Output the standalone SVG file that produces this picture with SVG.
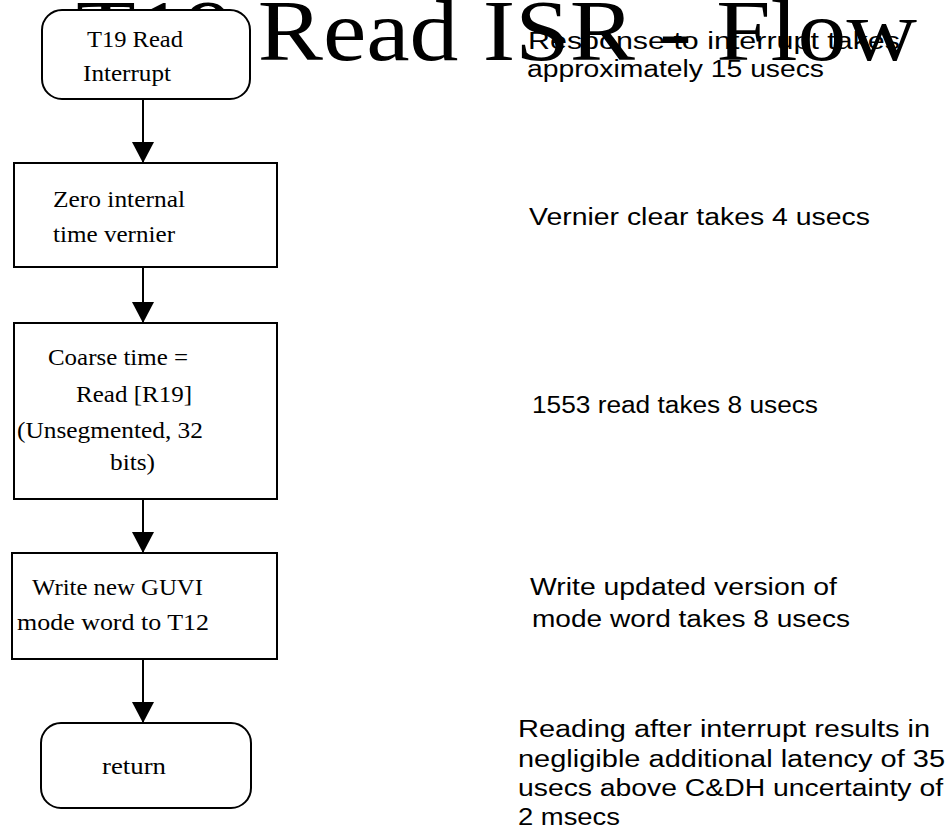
<svg xmlns="http://www.w3.org/2000/svg" width="949" height="827" viewBox="0 0 949 827">
<style>
.box{fill:#fff;stroke:#000;stroke-width:2}
.lbl{font-family:"Liberation Serif","Times New Roman",serif;font-size:24px;fill:#000}
.note{font-family:"Liberation Sans",Arial,sans-serif;font-size:23px;fill:#000}
.title{font-family:"Liberation Serif","Times New Roman",serif;font-size:86px;fill:#000}
.conn{stroke:#000;stroke-width:2;fill:none}
</style>
<defs>
<marker id="ah" markerUnits="userSpaceOnUse" markerWidth="24" markerHeight="24" refX="21" refY="11" orient="auto" viewBox="0 0 24 24">
<path d="M0,0 L21,11 L0,22 z" fill="#000"/>
</marker>
</defs>
<rect width="949" height="827" fill="#fff"/>
<text id="title" class="title" x="76" y="60" textLength="841" lengthAdjust="spacingAndGlyphs">T19 Read ISR - Flow</text>
<g id="connectors">
<line class="conn" x1="143" y1="99" x2="143" y2="163" marker-end="url(#ah)"/>
<line class="conn" x1="143" y1="267" x2="143" y2="323" marker-end="url(#ah)"/>
<line class="conn" x1="143" y1="499" x2="143" y2="553" marker-end="url(#ah)"/>
<line class="conn" x1="143" y1="659" x2="143" y2="723" marker-end="url(#ah)"/>
</g>
<g id="n1">
<rect class="box" x="42" y="10" width="208" height="89" rx="20" ry="20"/>
<text class="lbl" x="87" y="47" textLength="96" lengthAdjust="spacingAndGlyphs">T19 Read</text>
<text class="lbl" x="83" y="81" textLength="88" lengthAdjust="spacingAndGlyphs">Interrupt</text>
</g>
<g id="n2">
<rect class="box" x="14" y="163" width="263" height="104"/>
<text class="lbl" x="53" y="207" textLength="132" lengthAdjust="spacingAndGlyphs">Zero internal</text>
<text class="lbl" x="53" y="242" textLength="122" lengthAdjust="spacingAndGlyphs">time vernier</text>
</g>
<g id="n3">
<rect class="box" x="14" y="323" width="263" height="176"/>
<text class="lbl" x="48" y="365" textLength="140" lengthAdjust="spacingAndGlyphs">Coarse time =</text>
<text class="lbl" x="76" y="402" textLength="116" lengthAdjust="spacingAndGlyphs">Read [R19]</text>
<text class="lbl" x="17" y="438" textLength="186" lengthAdjust="spacingAndGlyphs">(Unsegmented, 32</text>
<text class="lbl" x="110" y="470" textLength="45" lengthAdjust="spacingAndGlyphs">bits)</text>
</g>
<g id="n4">
<rect class="box" x="12" y="553" width="265" height="106"/>
<text class="lbl" x="32" y="595" textLength="171" lengthAdjust="spacingAndGlyphs">Write new GUVI</text>
<text class="lbl" x="17" y="630" textLength="192" lengthAdjust="spacingAndGlyphs">mode word to T12</text>
</g>
<g id="n5">
<rect class="box" x="41" y="723" width="210" height="85" rx="20" ry="20"/>
<text class="lbl" x="102" y="774" textLength="64" lengthAdjust="spacingAndGlyphs">return</text>
</g>
<g id="notes">
<text class="note" x="528" y="49" textLength="372" lengthAdjust="spacingAndGlyphs">Response to interrupt takes</text>
<text class="note" x="527" y="77" textLength="297" lengthAdjust="spacingAndGlyphs">approximately 15 usecs</text>
<text class="note" x="529" y="225" textLength="341" lengthAdjust="spacingAndGlyphs">Vernier clear takes 4 usecs</text>
<text class="note" x="532" y="413" textLength="286" lengthAdjust="spacingAndGlyphs">1553 read takes 8 usecs</text>
<text class="note" x="530" y="595" textLength="307" lengthAdjust="spacingAndGlyphs">Write updated version of</text>
<text class="note" x="532" y="627" textLength="318" lengthAdjust="spacingAndGlyphs">mode word takes 8 usecs</text>
<text class="note" x="518" y="737" textLength="412" lengthAdjust="spacingAndGlyphs">Reading after interrupt results in</text>
<text class="note" x="518" y="767" textLength="427" lengthAdjust="spacingAndGlyphs">negligible additional latency of 35</text>
<text class="note" x="518" y="796" textLength="425" lengthAdjust="spacingAndGlyphs">usecs above C&amp;DH uncertainty of</text>
<text class="note" x="518" y="825" textLength="102" lengthAdjust="spacingAndGlyphs">2 msecs</text>
</g>
</svg>
